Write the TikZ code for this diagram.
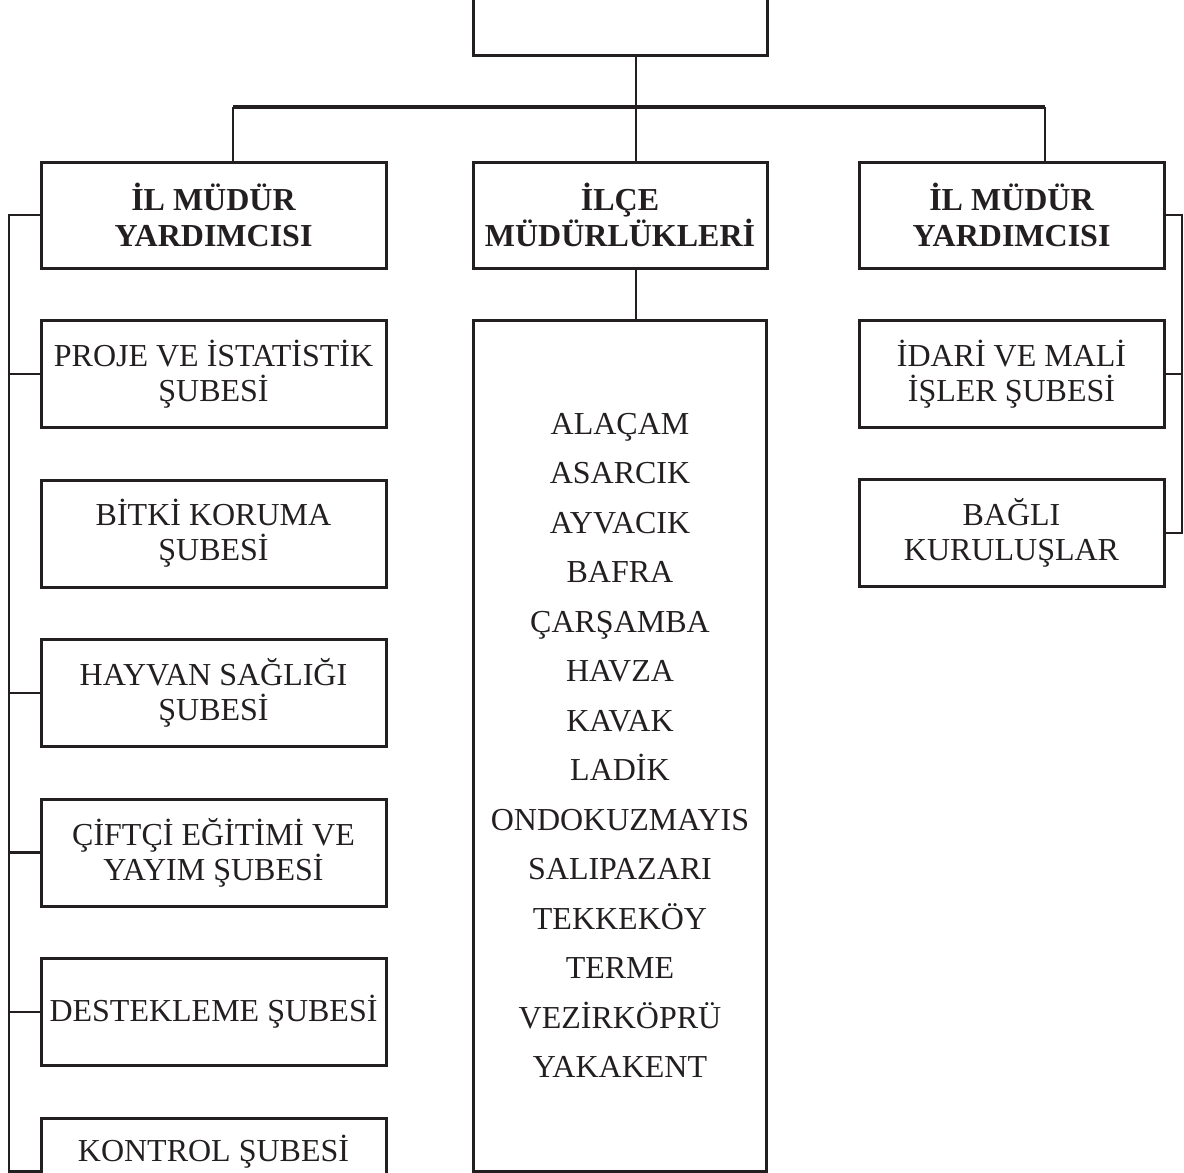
\documentclass[tikz,border=0pt]{standalone}
\usepackage{fontspec}
\setmainfont{Liberation Serif}
\definecolor{ink}{HTML}{231F20}
\tikzset{
  orgbox/.style={draw=ink, line width=3pt, rectangle, inner sep=0pt, align=center,
    text=ink, font=\fontsize{32}{35}\selectfont, line join=miter},
  headbox/.style={orgbox, font=\bfseries\fontsize{32}{36}\selectfont, minimum height=106pt},
  leftbox/.style={orgbox, minimum width=345pt, minimum height=107pt},
  rightbox/.style={orgbox, minimum width=305pt, minimum height=107pt},
  conn/.style={draw=ink, line width=2.2pt, line join=miter},
  busline/.style={draw=ink, line width=3.4pt},
}
\begin{document}
\begin{tikzpicture}[x=1pt, y=-1pt]
\path[use as bounding box, clip] (0,0) rectangle (1184,1173);

% top (cut-off) box
\node[orgbox, minimum width=294pt, minimum height=110pt] (top) at (620,0) {};

% headers
\node[headbox, minimum width=345pt] (h1) at (213.5,215) {İL MÜDÜR\\YARDIMCISI};
\node[headbox, minimum width=294pt] (h2) at (620,215) {İLÇE\\MÜDÜRLÜKLERİ};
\node[headbox, minimum width=305pt] (h3) at (1011.5,215) {İL MÜDÜR\\YARDIMCISI};

% left column
\node[leftbox] (proje) at (213.5,374) {PROJE VE İSTATİSTİK\\ŞUBESİ};
\node[leftbox] (bitki) at (213.5,533.5) {BİTKİ KORUMA\\ŞUBESİ};
\node[leftbox] (hayvan) at (213.5,693) {HAYVAN SAĞLIĞI\\ŞUBESİ};
\node[leftbox] (ciftci) at (213.5,852.5) {ÇİFTÇİ EĞİTİMİ VE\\YAYIM ŞUBESİ};
\node[leftbox] (destek) at (213.5,1012) {DESTEKLEME ŞUBESİ};
\node[leftbox, label={[text=ink, font=\fontsize{32}{35}\selectfont, anchor=north, yshift=-15pt]north:KONTROL ŞUBESİ}] (kontrol) at (213.5,1171.5) {};

% middle list
\node[orgbox, minimum width=293pt, minimum height=851pt, font=\fontsize{32}{49.5}\selectfont] (list) at (620,745.5)
 {ALAÇAM\\ASARCIK\\AYVACIK\\BAFRA\\ÇARŞAMBA\\HAVZA\\KAVAK\\LADİK\\ONDOKUZMAYIS\\SALIPAZARI\\TEKKEKÖY\\TERME\\VEZİRKÖPRÜ\\YAKAKENT};

% right column
\node[rightbox] (idari) at (1011.5,374) {İDARİ VE MALİ\\İŞLER ŞUBESİ};
\node[rightbox] (bagli) at (1011.5,533) {BAĞLI\\KURULUŞLAR};

% bus and drops
\coordinate (busL) at (233,107);
\coordinate (busM) at (636,107);
\coordinate (busR) at (1045,107);
\coordinate (LT) at (9,0);
\coordinate (RT) at (1182,0);

\draw[conn] (top.south -| busM) -- (busM);
\draw[busline] (busL) -- (busR);
\draw[conn] (busL) -- (busL |- h1.north);
\draw[conn] (busM) -- (busM |- h2.north);
\draw[conn] (busR) -- (busR |- h3.north);
\draw[conn] (h2.south -| busM) -- (busM |- list.north);

% left trunk
\draw[conn] (h1.west) -- (h1.west -| LT) -- (LT |- kontrol.west) -- (kontrol.west);
\draw[conn] (proje.west) -- (proje.west -| LT);
\draw[conn] (hayvan.west) -- (hayvan.west -| LT);
\draw[conn] (ciftci.west) -- (ciftci.west -| LT);
\draw[conn] (destek.west) -- (destek.west -| LT);

% right trunk
\draw[conn] (h3.east) -- (h3.east -| RT) -- (RT |- bagli.east) -- (bagli.east);
\draw[conn] (idari.east) -- (idari.east -| RT);
\end{tikzpicture}
\end{document}
